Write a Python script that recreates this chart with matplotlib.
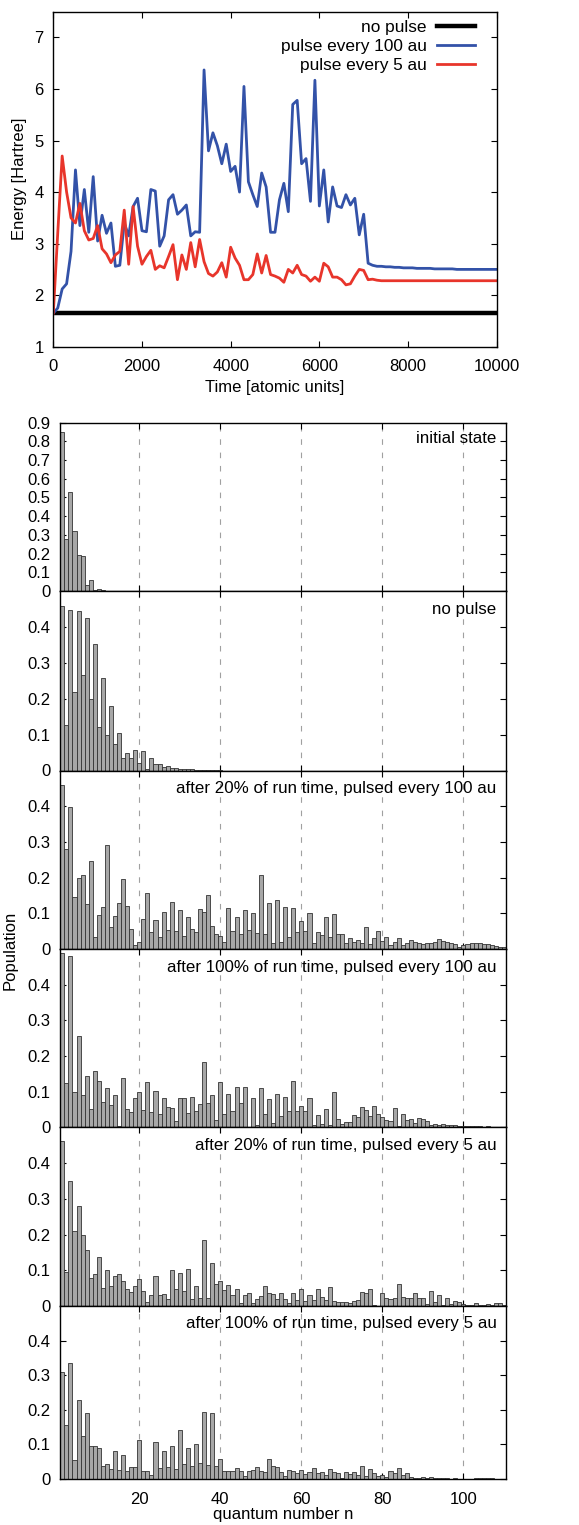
import numpy as np
import matplotlib
matplotlib.use("Agg")
import matplotlib.pyplot as plt

plt.rcParams['font.family'] = ['Liberation Sans', 'DejaVu Sans']
plt.rcParams['font.size'] = 12

# energy vs time, sampled every 100 au
time = np.arange(0, 10001, 100)

e_blue_head = [1.65, 1.75, 2.12, 2.22, 2.85, 4.43, 3.35, 4.05, 3.22, 4.30,
               3.05, 3.55, 3.20, 3.40, 2.56, 2.58, 3.40, 3.15, 3.72, 3.88,
               3.25, 3.23, 4.05, 4.02, 2.95, 3.15, 3.85, 3.95, 3.57, 3.65,
               3.75, 3.15, 3.23, 3.22, 6.37, 4.80, 5.15, 4.90, 4.55, 4.93,
               4.40, 4.50, 4.00, 6.05, 4.20, 3.95, 3.72, 4.37, 4.10, 3.22,
               3.22, 3.85, 4.17, 3.62, 5.70, 5.78, 4.55, 4.65, 3.82, 6.17,
               3.73, 4.43, 3.42, 4.10, 3.73, 3.70, 3.95, 3.75, 3.88, 3.17,
               3.57, 2.62, 2.58, 2.56, 2.56, 2.55]
e_blue_tail = [2.55, 2.54, 2.54, 2.53, 2.53, 2.53, 2.52, 2.52, 2.52, 2.52,
               2.51, 2.51, 2.51, 2.51, 2.51, 2.50, 2.50, 2.50, 2.50, 2.50,
               2.50, 2.50, 2.50, 2.50, 2.50]
e_blue = e_blue_head + e_blue_tail

e_red_head = [1.65, 3.20, 4.70, 4.00, 3.50, 3.40, 3.78, 3.25, 3.07, 3.10,
              3.35, 2.90, 2.80, 2.63, 2.78, 2.85, 3.65, 2.60, 3.72, 2.95,
              2.60, 2.75, 2.87, 2.50, 2.57, 2.53, 2.75, 2.98, 2.30, 2.78,
              2.50, 3.02, 2.55, 3.08, 2.65, 2.42, 2.37, 2.45, 2.63, 2.35,
              2.93, 2.72, 2.58, 2.30, 2.30, 2.40, 2.80, 2.43, 2.77, 2.40,
              2.37, 2.33, 2.25, 2.50, 2.43, 2.58, 2.40, 2.37, 2.27, 2.35,
              2.27, 2.62, 2.55, 2.35, 2.35, 2.30, 2.20, 2.22, 2.37, 2.50,
              2.48, 2.30, 2.31, 2.29, 2.28, 2.28]
e_red = e_red_head + [2.28] * 25

e_black = [1.65] * len(time)

# populations per quantum number n
pop_initial = [0.85, 0.28, 0.53, 0.32, 0.19, 0.185, 0.03, 0.06, 0.005, 0.013, 0.005, 0.002]

pop_nopulse = [0.457, 0.128, 0.448, 0.22, 0.443, 0.266, 0.424, 0.2, 0.353, 0.12,
               0.258, 0.1, 0.181, 0.075, 0.105, 0.034, 0.05, 0.035, 0.056, 0.02,
               0.053, 0.004, 0.035, 0.019, 0.017, 0.01, 0.013, 0.007, 0.006, 0.005,
               0.004, 0.003, 0.003, 0.002, 0.002, 0.002, 0.001, 0.001, 0.001, 0.001]

pop_100_20 = [0.458, 0.28, 0.398, 0.145, 0.2, 0.207, 0.125, 0.247, 0.034, 0.095,
              0.117, 0.29, 0.063, 0.093, 0.13, 0.195, 0.12, 0.055, 0.011, 0.02,
              0.085, 0.156, 0.049, 0.082, 0.033, 0.104, 0.052, 0.132, 0.05, 0.108,
              0.037, 0.09, 0.056, 0.049, 0.111, 0.103, 0.15, 0.065, 0.043, 0.037,
              0.02, 0.114, 0.05, 0.089, 0.043, 0.109, 0.052, 0.1, 0.046, 0.206,
              0.043, 0.128, 0.018, 0.138, 0.02, 0.118, 0.035, 0.116, 0.047, 0.078,
              0.05, 0.1, 0.017, 0.048, 0.039, 0.091, 0.033, 0.098, 0.041, 0.043,
              0.018, 0.03, 0.019, 0.025, 0.018, 0.061, 0.015, 0.032, 0.05, 0.022,
              0.033, 0.01, 0.021, 0.03, 0.01, 0.017, 0.025, 0.021, 0.018, 0.014,
              0.016, 0.017, 0.021, 0.029, 0.023, 0.021, 0.018, 0.014, 0.007, 0.011,
              0.013, 0.016, 0.016, 0.018, 0.015, 0.013, 0.011, 0.008, 0.007, 0.005]

pop_100_100 = [0.49, 0.123, 0.48, 0.098, 0.257, 0.09, 0.143, 0.052, 0.158, 0.13,
               0.072, 0.11, 0.062, 0.091, 0.003, 0.138, 0.05, 0.042, 0.083, 0.098,
               0.049, 0.127, 0.042, 0.101, 0.038, 0.082, 0.057, 0.055, 0.018, 0.081,
               0.083, 0.04, 0.084, 0.045, 0.065, 0.184, 0.067, 0.09, 0.02, 0.126,
               0.036, 0.093, 0.046, 0.112, 0.067, 0.112, 0.002, 0.082, 0.006, 0.109,
               0.037, 0.079, 0.011, 0.092, 0.031, 0.085, 0.047, 0.13, 0.046, 0.059,
               0.046, 0.082, 0.007, 0.035, 0.008, 0.052, 0.006, 0.099, 0.022, 0.01,
               0.014, 0.014, 0.035, 0.028, 0.057, 0.048, 0.033, 0.059, 0.037, 0.029,
               0.02, 0.017, 0.054, 0.003, 0.037, 0.02, 0.022, 0.013, 0.026, 0.024,
               0.017, 0.007, 0.008, 0.007, 0.01, 0.006, 0.006, 0.007, 0.005, 0.004,
               0.003, 0.004, 0.003, 0.003, 0.002, 0.003, 0.002, 0.002, 0.002, 0.001]

pop_5_20 = [0.461, 0.096, 0.351, 0.211, 0.281, 0.198, 0.157, 0.079, 0.09, 0.137,
            0.05, 0.102, 0.057, 0.085, 0.089, 0.071, 0.048, 0.038, 0.055, 0.076,
            0.041, 0.011, 0.03, 0.083, 0.03, 0.034, 0.019, 0.1, 0.047, 0.093,
            0.042, 0.104, 0.019, 0.055, 0.023, 0.186, 0.022, 0.121, 0.062, 0.07,
            0.045, 0.059, 0.032, 0.048, 0.009, 0.032, 0.037, 0.007, 0.019, 0.028,
            0.057, 0.036, 0.034, 0.019, 0.036, 0.02, 0.009, 0.035, 0.016, 0.048,
            0.015, 0.03, 0.018, 0.048, 0.025, 0.016, 0.052, 0.014, 0.01, 0.011,
            0.012, 0.009, 0.013, 0.018, 0.039, 0.036, 0.048, 0.002, 0.001, 0.037,
            0.022, 0.02, 0.021, 0.062, 0.024, 0.021, 0.021, 0.036, 0.021, 0.021,
            0.006, 0.042, 0.011, 0.032, 0.004, 0.023, 0.005, 0.014, 0.01, 0.006,
            0.004, 0.003, 0.008, 0.004, 0.004, 0.006, 0.003, 0.009, 0.007, 0.004]

pop_5_100 = [0.308, 0.157, 0.334, 0.056, 0.228, 0.125, 0.191, 0.095, 0.095, 0.089,
             0.038, 0.042, 0.03, 0.081, 0.026, 0.069, 0.022, 0.034, 0.035, 0.113,
             0.022, 0.022, 0.013, 0.106, 0.031, 0.08, 0.035, 0.096, 0.029, 0.143,
             0.042, 0.091, 0.038, 0.101, 0.045, 0.195, 0.04, 0.19, 0.039, 0.059,
             0.022, 0.024, 0.024, 0.033, 0.024, 0.01, 0.024, 0.026, 0.036, 0.024,
             0.019, 0.057, 0.039, 0.036, 0.021, 0.009, 0.027, 0.024, 0.018, 0.027,
             0.014, 0.02, 0.033, 0.018, 0.019, 0.012, 0.029, 0.019, 0.016, 0.004,
             0.02, 0.014, 0.019, 0.012, 0.039, 0.01, 0.028, 0.016, 0.009, 0.012,
             0.007, 0.024, 0.016, 0.031, 0.011, 0.016, 0.006, 0.004, 0.004, 0.006,
             0.004, 0.007, 0.002, 0.002, 0.002, 0.002, 0.001, 0.002, 0.001, 0.001,
             0.001, 0.001, 0.002, 0.003, 0.003, 0.003, 0.002, 0.001, 0.001, 0.001]

panel_labels = ["initial state", "no pulse",
                "after 20% of run time, pulsed every 100 au",
                "after 100% of run time, pulsed every 100 au",
                "after 20% of run time, pulsed every 5 au",
                "after 100% of run time, pulsed every 5 au"]
panel_data = [pop_initial, pop_nopulse, pop_100_20, pop_100_100, pop_5_20, pop_5_100]

W, H = 579, 1525
fig = plt.figure(figsize=(W / 100, H / 100), dpi=100)


def px_axes(left, top, right, bottom):
    return fig.add_axes([left / W, 1 - bottom / H, (right - left) / W, (bottom - top) / H])


def gp_ticks(ax):
    ax.tick_params(direction='in', top=True, right=True, length=4, width=0.8, labelsize=12)
    ax.tick_params(axis='y', pad=7)
    ax.tick_params(axis='x', pad=9)
    for s in ax.spines.values():
        s.set_linewidth(1.0)


# --- energy panel
ax = px_axes(53.3, 11.7, 496.7, 346.7)
ax.plot(time, e_black, color='black', lw=3.2, label='no pulse')
ax.plot(time, e_blue, color='#3352a8', lw=2.0, label='pulse every 100 au')
ax.plot(time, e_red, color='#e8352b', lw=2.0, label='pulse every 5 au')
ax.set_xlim(0, 10000)
ax.set_ylim(1, 7.5)
ax.set_yticks(range(1, 8))
ax.set_xticks(range(0, 10001, 2000))
gp_ticks(ax)
ax.set_xlabel('Time [atomic units]', fontsize=12, labelpad=4)
ax.set_ylabel('Energy [Hartree]', fontsize=12, labelpad=5)
ax.legend(loc='upper right', frameon=False, markerfirst=False, handlelength=2.2,
          fontsize=12.4, labelspacing=0.22, borderaxespad=0.0, handletextpad=0.6,
          bbox_to_anchor=(0.967, 0.995))

# --- population panels
edges = [422.7, 591.0, 770.5, 949.0, 1127.3, 1306.0, 1479.0]
hist_axes = []
for i, (vals, lab) in enumerate(zip(panel_data, panel_labels)):
    hx = px_axes(60.3, edges[i], 506.0, edges[i + 1])
    n = np.arange(1, len(vals) + 1)
    hx.bar(n, vals, width=1.0, color='#a7a7a7', edgecolor='#333333', linewidth=0.6, zorder=2)
    for g in range(20, 101, 20):
        hx.axvline(g, color='#a0a0a0', lw=0.8, ls=(0, (5, 7)), zorder=1)
    hx.set_xlim(0.5, 110.5)
    if i == 0:
        hx.set_ylim(0, 0.9)
        hx.set_yticks(np.arange(0, 0.91, 0.1))
        hx.set_yticklabels(['0'] + ['%.1f' % v for v in np.arange(0.1, 0.91, 0.1)])
    else:
        hx.set_ylim(0, 0.5)
        hx.set_yticks([0, 0.1, 0.2, 0.3, 0.4])
        hx.set_yticklabels(['0', '0.1', '0.2', '0.3', '0.4'])
    hx.set_xticks(range(20, 101, 20))
    gp_ticks(hx)
    if i < 5:
        hx.tick_params(labelbottom=False)
    hx.text(0.979, 0.94 if i else 0.95, lab, transform=hx.transAxes, ha='right', va='top', fontsize=12.2)
    hist_axes.append(hx)

hist_axes[-1].set_xlabel('quantum number n', fontsize=12, labelpad=0.5)
fig.text(10 / W, 1 - 950 / H, 'Population', rotation=90, ha='center', va='center', fontsize=12)

fig.savefig('out.png', dpi=100)
